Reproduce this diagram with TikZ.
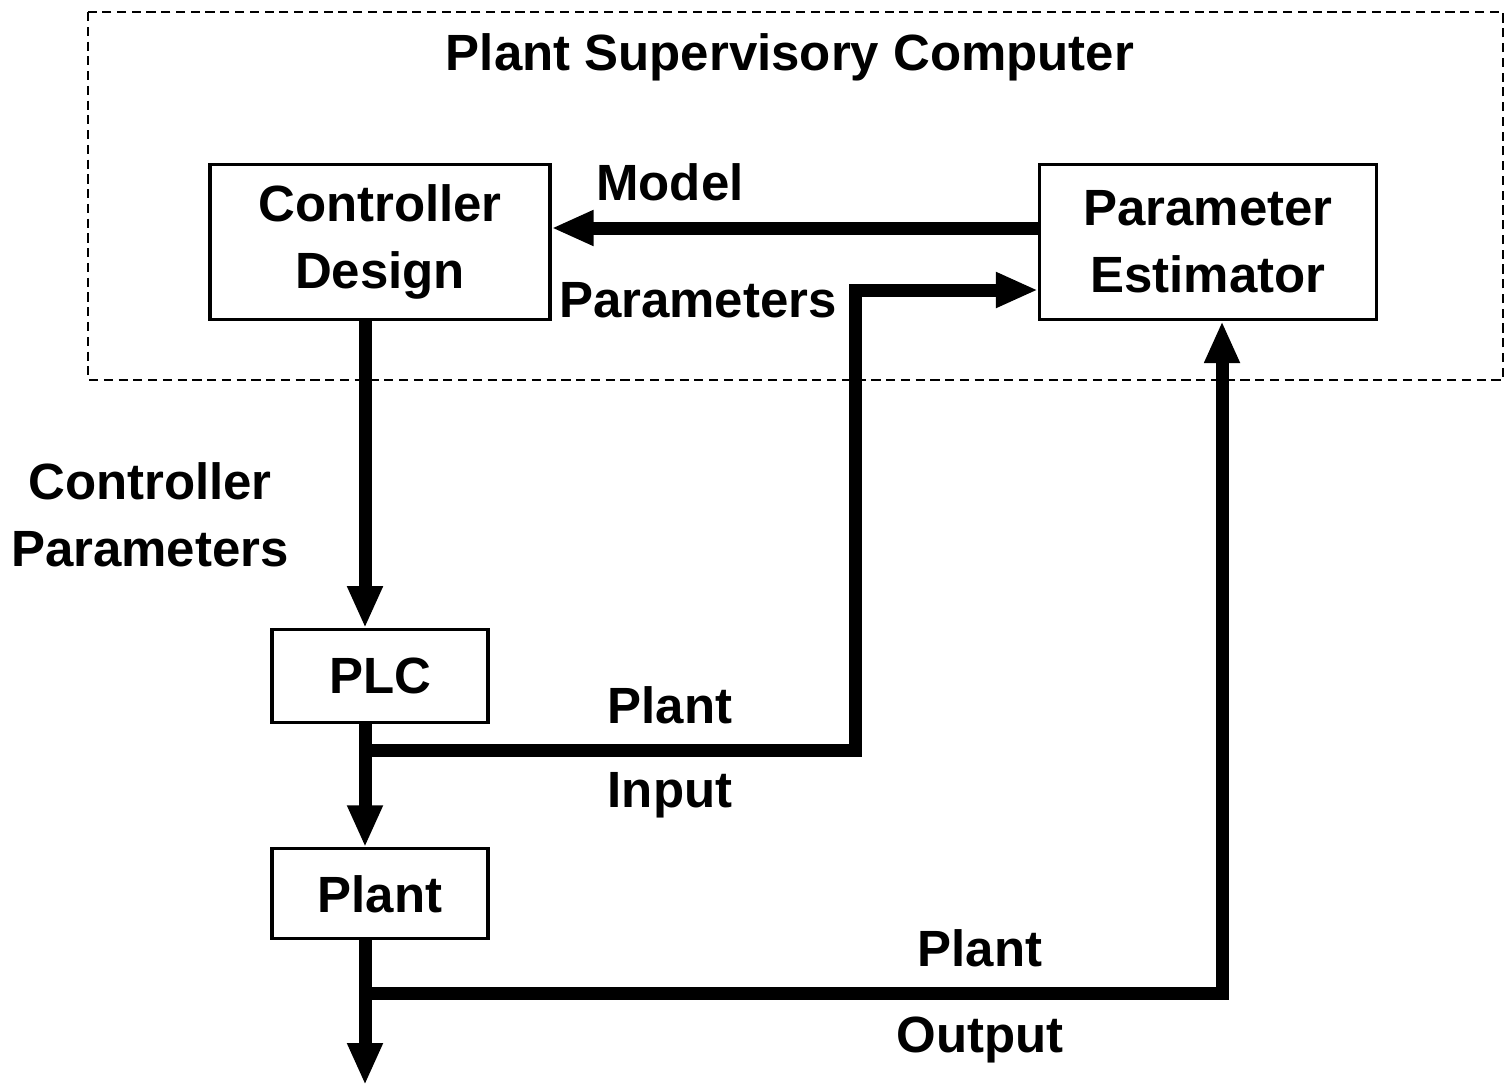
\documentclass[tikz,border=0pt]{standalone}
\usepackage{fontspec}
\setmainfont{Liberation Sans}
\usetikzlibrary{arrows.meta,positioning,calc}
\tikzset{
  % block with bold label
  blk/.style={draw, rectangle, line width=0.9pt, align=center,
              font=\fontsize{14.5}{19}\selectfont\bfseries},
  % thick signal line with solid triangle head
  sig/.style={line width=1.3mm, -{Triangle[width=3.3mm,length=4.2mm]}},
  % free text label
  lbl/.style={font=\fontsize{14.5}{19}\selectfont\bfseries, align=center, inner sep=1pt},
  % supervisory computer enclosure
  encl/.style={draw, dash pattern=on 2.6pt off 1.6pt, line width=0.7pt}
}
\begin{document}
\begin{tikzpicture}[node distance=8mm]
\useasboundingbox (0,0) rectangle (15.08,10.90);

% Supervisory computer enclosure
\draw[encl] (0.88,10.78) rectangle (15.03,7.10);
\node[lbl] (title) at (7.90,10.33) {Plant Supervisory Computer};

% Blocks
\node[blk, minimum width=3.40cm, minimum height=1.55cm] (cd) at (3.80,8.48) {Controller\\Design};
\node[blk, minimum width=3.37cm, minimum height=1.55cm] (pe) at (12.08,8.48) {Parameter\\Estimator};
\node[blk, minimum width=2.16cm, minimum height=0.93cm, below=3.07cm of cd] (plc) {PLC};
\node[blk, minimum width=2.16cm, minimum height=0.90cm, below=1.23cm of plc] (plant) {Plant};

% Helper coordinates
\coordinate (spine) at (3.65,0);
\coordinate (inbr) at (3.65,3.40);
\coordinate (outbr) at (3.65,0.97);
\coordinate (inup) at (8.55,3.40);
\coordinate (outend) at (3.65,0.05);

% Model: estimator -> design
\draw[sig] ([yshift=1.4mm]pe.west) -- ([yshift=1.4mm]cd.east);
\node[lbl] (lmodel) at (6.70,9.08) {Model};
\node[lbl] (lparam) at (6.98,7.90) {Parameters};

% Controller parameters down to PLC
\draw[sig] (cd.south -| spine) -- (plc.north -| spine);
\node[lbl] (lctrl) at (1.50,5.75) {Controller\\Parameters};

% PLC -> plant, plant input tapped to estimator
\draw[sig] (plc.south -| spine) -- (plant.north -| spine);
\draw[sig] (inbr) -- (inup) |- ([yshift=-4.8mm]pe.west);
\node[lbl] (lin1) at (6.70,3.85) {Plant};
\node[lbl] (lin2) at (6.70,2.95) {Input};

% Plant output, tapped to estimator
\draw[sig] (plant.south -| spine) -- (outend);
\draw[sig] (outbr) -| ([xshift=1.4mm]pe.south);
\node[lbl] (lout1) at (9.80,1.42) {Plant};
\node[lbl] (lout2) at (9.80,0.50) {Output};

\end{tikzpicture}
\end{document}
